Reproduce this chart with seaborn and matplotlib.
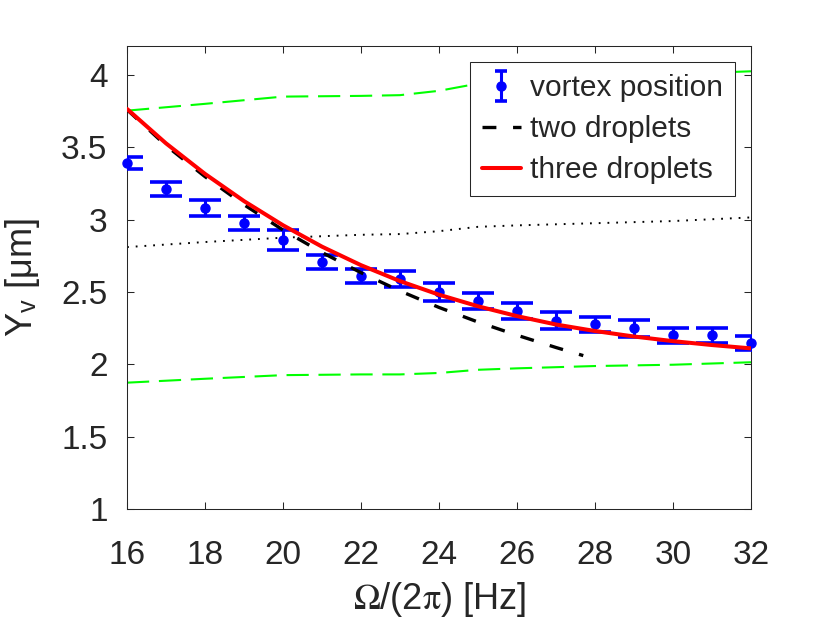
import matplotlib
matplotlib.use("Agg")
import matplotlib.pyplot as plt
from matplotlib.lines import Line2D
from matplotlib.ticker import FuncFormatter
import numpy as np
import seaborn as sns

# rotation frequency Omega/(2 pi) in Hz
omega = [16, 17, 18, 19, 20, 21, 22, 23, 24, 25, 26, 27, 28, 29, 30, 31, 32]

# measured vortex position and its error
vortex_y = [3.39, 3.21, 3.08, 2.975, 2.86, 2.71, 2.61, 2.59, 2.50, 2.44,
            2.37, 2.30, 2.275, 2.25, 2.20, 2.20, 2.145]
vortex_err = [0.042, 0.048, 0.052, 0.048, 0.07, 0.048, 0.048, 0.055, 0.062, 0.055,
              0.055, 0.059, 0.052, 0.059, 0.052, 0.052, 0.048]

# three droplet model
three_y = [3.765, 3.527, 3.316, 3.128, 2.961, 2.813, 2.685, 2.575, 2.481, 2.401,
           2.333, 2.275, 2.23, 2.192, 2.16, 2.133, 2.11]

# two droplet model (stops before 28 Hz)
two_x = [16, 17, 18, 19, 20, 21, 22, 23, 24, 25, 26, 27, 27.7]
two_y = [3.76, 3.512, 3.297, 3.103, 2.928, 2.773, 2.633, 2.507, 2.393, 2.292,
         2.201, 2.116, 2.06]

# dotted centre line and green dashed bounds
band_x = [16, 18, 20, 22, 23, 24, 25, 26, 28, 30, 32]
centre_y = [2.81, 2.845, 2.875, 2.895, 2.90, 2.92, 2.95, 2.96, 2.975, 2.99, 3.015]
upper_y = [3.753, 3.80, 3.85, 3.855, 3.86, 3.89, 3.94, 3.965, 3.99, 4.005, 4.025]
lower_y = [1.873, 1.90, 1.925, 1.93, 1.93, 1.94, 1.962, 1.972, 1.988, 1.997, 2.014]

sns.set_theme(style="white")
plt.rcParams["font.family"] = ["Liberation Sans", "DejaVu Sans"]
plt.rcParams["mathtext.fontset"] = "stix"
plt.rcParams["lines.scale_dashes"] = False

dark = (0.15, 0.15, 0.15)

fig = plt.figure(figsize=(8.3, 6.22), dpi=100)
ax = fig.add_axes([0.153, 0.1817, 0.7518, 0.7444])

sns.lineplot(x=band_x, y=upper_y, color=(0, 1, 0), lw=1.5, linestyle=(0, (16, 7)),
             estimator=None, sort=False, ax=ax)
sns.lineplot(x=band_x, y=lower_y, color=(0, 1, 0), lw=1.5, linestyle=(0, (16, 7)),
             estimator=None, sort=False, ax=ax)
sns.lineplot(x=band_x, y=centre_y, color="black", lw=1.4, linestyle=(0, (1.3, 5.0)),
             estimator=None, sort=False, ax=ax)

eb = ax.errorbar(omega, vortex_y, yerr=vortex_err, fmt="o", color="blue",
                 ms=6.5, elinewidth=2.2, capsize=11.5, capthick=2.6,
                 label="vortex position", zorder=3)
eb.lines[0].set_clip_on(False)

sns.lineplot(x=two_x, y=two_y, color="black", lw=2.4, linestyle=(0, (10, 12)),
             estimator=None, sort=False, ax=ax, zorder=4)
two_line = ax.lines[-1]
sns.lineplot(x=omega, y=three_y, color="red", lw=2.9,
             estimator=None, sort=False, ax=ax, zorder=5)
three_line = ax.lines[-1]
three_line.set_solid_joinstyle("round")

ax.set_xlim(16, 32)
ax.set_ylim(1, 4.2)
ax.set_xticks(np.arange(16, 33, 2))
ax.set_yticks(np.arange(1, 4.01, 0.5))
ax.yaxis.set_major_formatter(FuncFormatter(lambda v, p: f"{v:g}"))
ax.tick_params(axis="both", direction="in", length=5, width=0.75,
               top=True, right=True, bottom=True, left=True,
               color=dark, labelcolor=dark, labelsize=24)
ax.tick_params(axis="x", pad=22)
ax.tick_params(axis="y", pad=14)
for sp in ax.spines.values():
    sp.set_color(dark)
    sp.set_linewidth(0.75)

ax.set_xlabel(r"$\mathrm{\Omega}$/(2$\mathrm{\pi}$) [Hz]", fontsize=26, color=dark, labelpad=7)
ax.set_ylabel(r"Y$_{\mathregular{v}}$ [μm]", fontsize=26, color=dark, labelpad=14)

leg = ax.legend(handles=[eb, two_line, three_line],
                labels=["vortex position", "two droplets", "three droplets"],
                loc="upper right", fontsize=21.5, frameon=True, fancybox=False,
                edgecolor=dark, framealpha=1, borderaxespad=0.55,
                handlelength=1.3, handletextpad=0.3, labelspacing=0.43,
                borderpad=0.4)
leg.get_frame().set_linewidth(0.75)
for ln in leg.findobj(Line2D):
    if ln.get_marker() == "_":
        ln.set_markersize(8)

fig.savefig("out.png", dpi=100, facecolor="white")
